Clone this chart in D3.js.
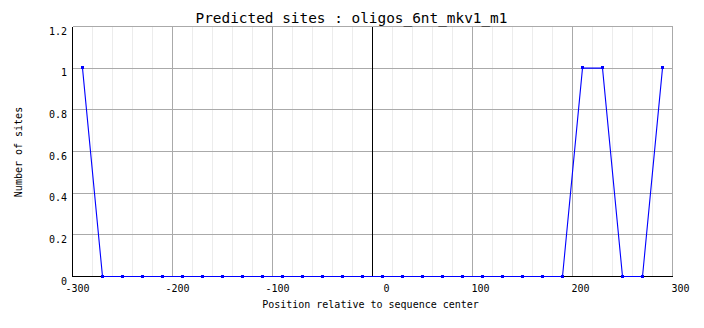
<!DOCTYPE html>
<html><head><meta charset="utf-8">
<script src="https://cdn.jsdelivr.net/npm/d3@7"></script>
<style>
html,body{margin:0;padding:0;background:#fff;}
svg{display:block;}
text{font-family:"DejaVu Sans Mono","Liberation Mono",monospace;fill:#000;}
</style></head>
<body>
<script>
const title = "Predicted sites : oligos_6nt_mkv1_m1";
const xTitle = "Position relative to sequence center";
const yTitle = "Number of sites";
const positions = [-290,-270,-250,-230,-210,-190,-170,-150,-130,-110,-90,-70,-50,-30,-10,10,30,50,70,90,110,130,150,170,190,210,230,250,270,290];
const sites = [1,0,0,0,0,0,0,0,0,0,0,0,0,0,0,0,0,0,0,0,0,0,0,0,0,1,1,0,0,1];
const xTicks = [-300,-200,-100,0,100,200,300];
const xMinor = d3.range(-300, 301, 20);
const yTicks = [0,0.2,0.4,0.6,0.8,1,1.2];
const yLabels = ["0","0.2","0.4","0.6","0.8","1","1.2"];

const W = 704, H = 328;
const svg = d3.select("body").append("svg").attr("width", W).attr("height", H);
const x = d3.scaleLinear().domain([-300,300]).range([72.5,672.5]);
const y = d3.scaleLinear().domain([0,1.2]).range([276.5,26.5]);

const g = svg.append("g").attr("shape-rendering","crispEdges");
g.selectAll(".minor").data(xMinor.filter(v => !xTicks.includes(v))).enter().append("line")
  .attr("x1", d=>x(d)).attr("x2", d=>x(d)).attr("y1", y(0)).attr("y2", y(1.2))
  .attr("stroke","#ececec").attr("stroke-width",1);
g.selectAll(".majx").data(xTicks).enter().append("line")
  .attr("x1", d=>x(d)).attr("x2", d=>x(d)).attr("y1", y(0)).attr("y2", y(1.2))
  .attr("stroke","#aaaaaa").attr("stroke-width",1);
g.selectAll(".majy").data(yTicks).enter().append("line")
  .attr("x1", x(-300)).attr("x2", x(300)).attr("y1", d=>y(d)).attr("y2", d=>y(d))
  .attr("stroke","#aaaaaa").attr("stroke-width",1);
g.append("line").attr("x1", x(0)).attr("x2", x(0)).attr("y1", y(0)).attr("y2", y(1.2))
  .attr("stroke","#000").attr("stroke-width",1);
g.append("line").attr("x1", x(-300)).attr("x2", x(-300)).attr("y1", y(0)).attr("y2", y(1.2))
  .attr("stroke","#000");
g.append("line").attr("x1", x(-300)).attr("x2", x(300)).attr("y1", y(0)).attr("y2", y(0))
  .attr("stroke","#000");

const line = d3.line().x((d,i)=>x(positions[i])).y(d=>y(d));
svg.append("path").datum(sites).attr("d", line).attr("fill","none")
  .attr("stroke","#0000ff").attr("stroke-width",1.1);
svg.append("g").attr("shape-rendering","crispEdges").selectAll("rect").data(sites).enter().append("rect")
  .attr("x",(d,i)=>x(positions[i])-2).attr("y",d=>y(d)-2).attr("width",3).attr("height",3)
  .attr("fill","#0000ff");

svg.selectAll(".xl").data(xTicks).enter().append("text")
  .attr("x", d=>x(d)+17).attr("y", 292).attr("text-anchor","end")
  .attr("font-size","10px").text(d=>String(d));
svg.selectAll(".yl").data(yTicks).enter().append("text")
  .attr("x", 67).attr("y", d=>y(d)+8).attr("text-anchor","end")
  .attr("font-size","10px").text((d,i)=>yLabels[i]);

svg.append("text").attr("x", 351.5).attr("y", 23).attr("text-anchor","middle")
  .attr("font-family","'Liberation Mono',monospace")
  .attr("font-size","14.4px").text(title);
svg.append("text").attr("x", 370.5).attr("y", 308).attr("text-anchor","middle")
  .attr("font-size","10px").text(xTitle);
svg.append("text").attr("transform","translate(22,152) rotate(-90)").attr("text-anchor","middle")
  .attr("font-size","10px").text(yTitle);
</script>
</body></html>
